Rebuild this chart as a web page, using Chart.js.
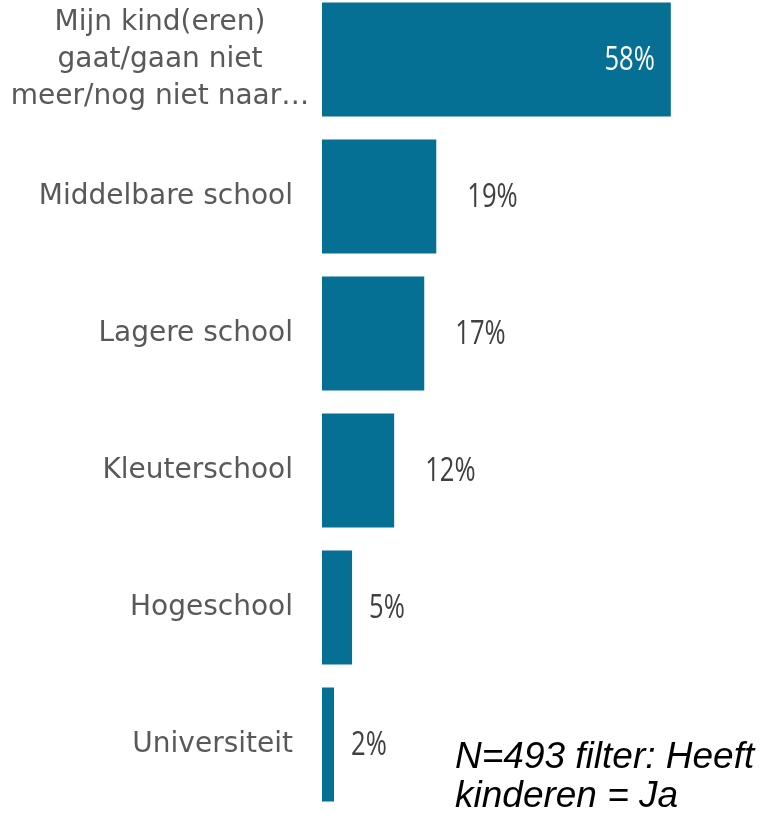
<!DOCTYPE html>
<html>
<head>
<meta charset="utf-8">
<script src="https://cdn.jsdelivr.net/npm/chart.js@4/dist/chart.umd.min.js"></script>
<style>
    html, body { margin: 0; padding: 0; background: #fff; overflow: hidden; }
    #wrap { position: relative; width: 764px; height: 816px; overflow: hidden; }
    #chart { position: absolute; left: 0; top: -9px; }
    #note {
        position: absolute; left: 455px; top: 736px;
        font: italic 37px "Liberation Sans", Arial, sans-serif;
        line-height: 39px; color: #000; white-space: nowrap;
    }
</style>
</head>
<body>
<div id="wrap">
    <canvas id="chart" width="764" height="822"></canvas>
    <div id="note">N=493 filter: Heeft<br>kinderen = Ja</div>
</div>
<script>
// Data
const categories = [
    ['Mijn kind(eren)', 'gaat/gaan niet', 'meer/nog niet naar…'],
    'Middelbare school',
    'Lagere school',
    'Kleuterschool',
    'Hogeschool',
    'Universiteit'
];
const percentages = [58, 19, 17, 12, 5, 2];
const xMax = 70;

const barColor = '#057094';

// Draws category labels and value labels
const labelPlugin = {
    id: 'labels',
    afterDatasetsDraw(chart) {
        const ctx = chart.ctx;
        const yScale = chart.scales.y;
        ctx.save();

        // category labels
        ctx.fillStyle = '#595959';
        ctx.font = '28px "DejaVu Sans", sans-serif';
        ctx.textBaseline = 'middle';
        categories.forEach((cat, i) => {
            const y = yScale.getPixelForTick(i);
            if (Array.isArray(cat)) {
                ctx.textAlign = 'center';
                const lh = 37;
                const start = y - lh * (cat.length - 1) / 2;
                cat.forEach((line, j) => ctx.fillText(line, 160, start + j * lh));
            } else {
                ctx.textAlign = 'right';
                ctx.fillText(cat, 293, y);
            }
        });

        // value labels (narrow font look)
        ctx.font = '32px "Open Sans", sans-serif';
        const meta = chart.getDatasetMeta(0);
        meta.data.forEach((bar, i) => {
            const v = percentages[i];
            const txt = v + '%';
            let x;
            if (v > 40) {
                ctx.fillStyle = '#ffffff';
                ctx.textAlign = 'right';
                x = bar.x - 16;
            } else {
                ctx.fillStyle = '#404040';
                ctx.textAlign = 'left';
                x = bar.x + (v >= 10 ? 31 : 17);
            }
            ctx.save();
            ctx.translate(x, bar.y + 1);
            ctx.scale(0.8, 1);
            ctx.fillText(txt, 0, 0);
            ctx.restore();
        });
        ctx.restore();
    }
};

new Chart(document.getElementById('chart'), {
    type: 'bar',
    data: {
        labels: categories,
        datasets: [{
            data: percentages,
            backgroundColor: barColor,
            borderWidth: 0,
            categoryPercentage: 1,
            barPercentage: 0.832
        }]
    },
    options: {
        indexAxis: 'y',
        responsive: false,
        animation: false,
        layout: {
            padding: { left: 322, right: 21, top: 0, bottom: 0 }
        },
        plugins: {
            legend: { display: false },
            tooltip: { enabled: false }
        },
        scales: {
            x: {
                display: false,
                min: 0,
                max: xMax
            },
            y: {
                display: false
            }
        }
    },
    plugins: [labelPlugin]
});
</script>
</body>
</html>
